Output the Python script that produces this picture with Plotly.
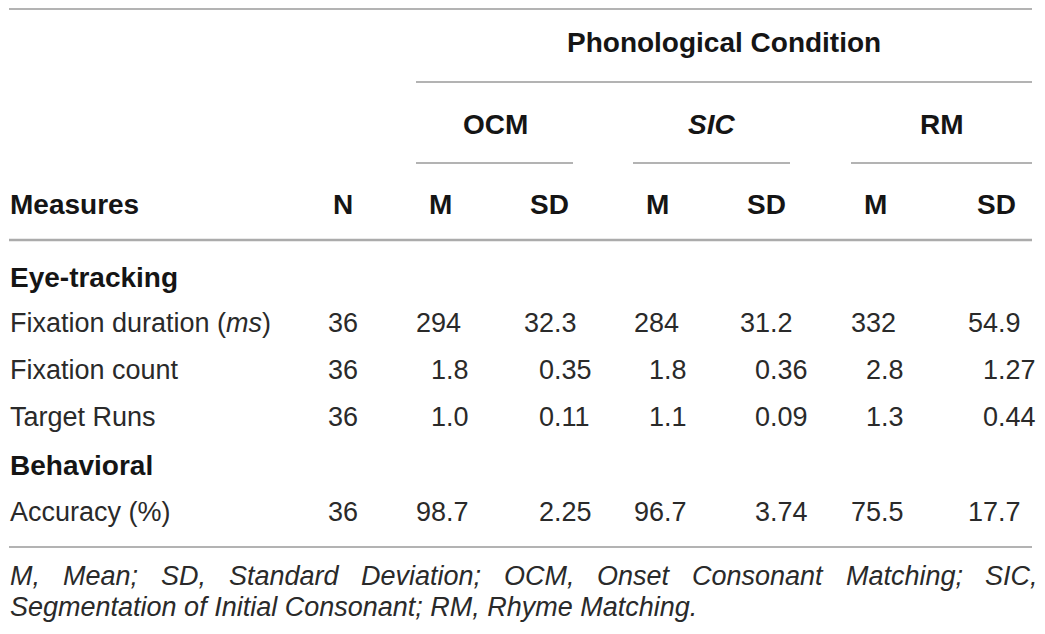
import plotly.graph_objects as go

# table content
group_title = "Phonological Condition"
conditions = ["OCM", "<i>SIC</i>", "RM"]
col_headers = ["Measures", "N", "M", "SD", "M", "SD", "M", "SD"]
sections = ["Eye-tracking", "Behavioral"]
measures = ["Fixation duration (<i>ms</i>)", "Fixation count", "Target Runs", "Accuracy (%)"]
n_values = ["36", "36", "36", "36"]
ocm_m = ["294", "1.8", "1.0", "98.7"]
ocm_sd = ["32.3", "0.35", "0.11", "2.25"]
sic_m = ["284", "1.8", "1.1", "96.7"]
sic_sd = ["31.2", "0.36", "0.09", "3.74"]
rm_m = ["332", "2.8", "1.3", "75.5"]
rm_sd = ["54.9", "1.27", "0.44", "17.7"]
footnote_1 = "M, Mean; SD, Standard Deviation; OCM, Onset Consonant Matching; SIC,"
footnote_2 = "Segmentation of Initial Consonant; RM, Rhyme Matching."

W, H = 1045, 634
OFF = 8  # the page body adds an 8px margin, so the axes start at 8
FONT = "Liberation Sans, Arial, sans-serif"
TXT = "#2a2a2a"
HEAD = "#151515"
LINE = "#9a9a9a"
SIZE = 27
BSIZE = 28

# layout positions (pixels of the 1045x634 window)
left_x = 8
right_x = 1032
n_center = 343
head_centers = [440, 549, 657, 766, 875, 996]
value_left = [414, 522, 632, 738, 849, 966]
cond_centers = [495, 711, 942]
cond_spans = [(416, 573), (633, 790), (851, right_x)]
y_title, y_cond, y_head = 42, 124, 204
y_section = [277, 465]
y_rows = [323, 370, 417, 512]
y_foot = [576, 607]

fig = go.Figure()
# invisible trace so the axes exist
fig.add_trace(go.Scatter(x=[OFF, W], y=[OFF, H], mode="markers", marker=dict(opacity=0), hoverinfo="skip"))

ann = []


def txt(x, y, text, anchor="center", bold=False, italic=False, size=SIZE, shift=0, color=TXT):
    if bold:
        text = "<b>" + text + "</b>"
    if italic:
        text = "<i>" + text + "</i>"
    ann.append(dict(x=x, y=y, xref="x", yref="y", text=text, showarrow=False,
                    xanchor=anchor, yanchor="middle", xshift=shift,
                    font=dict(family=FONT, size=size, color=color)))


# headers
txt((416 + right_x) / 2, y_title, group_title, bold=True, size=BSIZE, color=HEAD)
for cx, c in zip(cond_centers, conditions):
    txt(cx, y_cond, c, bold=True, size=BSIZE, color=HEAD)
txt(left_x, y_head, col_headers[0], anchor="left", bold=True, size=BSIZE, color=HEAD)
txt(n_center, y_head, col_headers[1], bold=True, size=BSIZE, color=HEAD)
for cx, h in zip(head_centers, col_headers[2:]):
    txt(cx, y_head, h, bold=True, size=BSIZE, color=HEAD)

# section titles
for y, s in zip(y_section, sections):
    txt(left_x, y, s, anchor="left", bold=True, size=BSIZE, color=HEAD)

# body rows
digit_w = 0.556 * SIZE
columns = [ocm_m, ocm_sd, sic_m, sic_sd, rm_m, rm_sd]
for i, name in enumerate(measures):
    y = y_rows[i]
    txt(left_x, y, name, anchor="left")
    txt(n_center, y, n_values[i])
    for xl, col in zip(value_left, columns):
        v = col[i]
        pad = digit_w if len(v.split(".")[0]) == 1 else 0
        txt(xl, y, v, anchor="left", shift=pad)

# footnote, first line justified word by word
cw = {"M": 833, ",": 278, " ": 278, "e": 556, "a": 556, "n": 556, ";": 278, "S": 667, "D": 722,
      "t": 278, "d": 556, "r": 333, "v": 500, "i": 222, "o": 556, "C": 722, "O": 778, "s": 500,
      "c": 500, "h": 556, "g": 556, "I": 278, "m": 833, "R": 722, "y": 500, "l": 222, ".": 278}
FS = 27
words = footnote_1.split(" ")
widths = [sum(cw.get(ch, 556) for ch in w) * FS / 1000 for w in words]
gap = (right_x + 4 - left_x - sum(widths)) / (len(words) - 1)
xpos = left_x
for w, wd in zip(words, widths):
    txt(xpos, y_foot[0], w, anchor="left", italic=True, size=FS)
    xpos += wd + gap
txt(left_x, y_foot[1], footnote_2, anchor="left", italic=True, size=FS)

# rules
shapes = []


def rule(x0, x1, y, width=1.6, color=LINE):
    shapes.append(dict(type="line", xref="x", yref="y", x0=x0, x1=x1, y0=y, y1=y,
                       line=dict(color=color, width=width)))


rule(left_x + 1, right_x, 9)  # the top rule sits as high as the page allows
rule(416, right_x, 82)
for a, b in cond_spans:
    rule(a, b, 163)
rule(left_x + 1, right_x, 240, width=2.4, color="#ababab")
rule(left_x + 1, right_x, 547)

fig.update_layout(
    width=W - OFF, height=H - OFF,
    margin=dict(l=0, r=0, t=0, b=0),
    paper_bgcolor="white", plot_bgcolor="white",
    showlegend=False,
    annotations=ann, shapes=shapes,
    xaxis=dict(range=[OFF, W], visible=False, fixedrange=True),
    yaxis=dict(range=[H, OFF], visible=False, fixedrange=True),
)

fig.write_html("out.html")
